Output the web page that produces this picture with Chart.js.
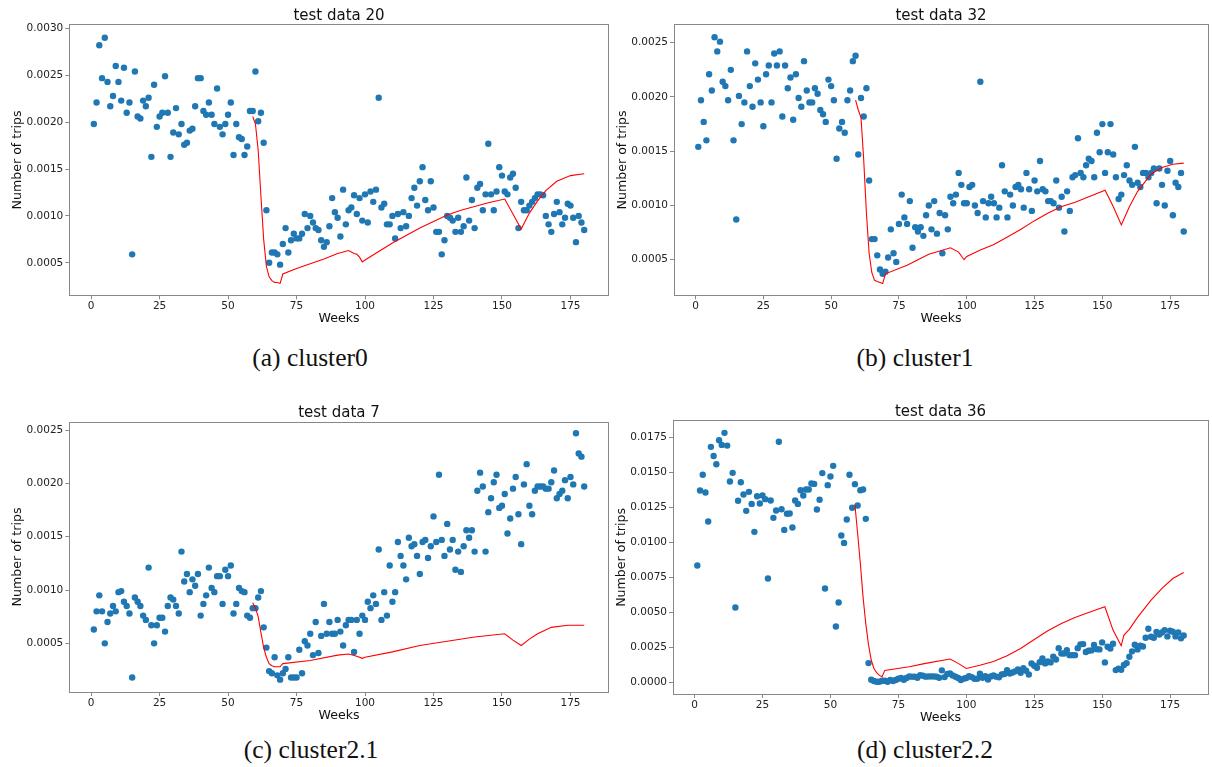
<!DOCTYPE html>
<html>
<head>
<meta charset="utf-8">
<title>test data</title>
<script src="https://cdn.jsdelivr.net/npm/chart.js@4.4.1/dist/chart.umd.min.js"></script>
<style>
  body { margin: 0; background: #fff; width: 1212px; height: 767px; position: relative; overflow: hidden; }
  canvas { position: absolute; }
  .cap { position: absolute; width: 300px; text-align: center; font-family: "Liberation Serif", "DejaVu Serif", serif;
         font-size: 25.5px; line-height: 26px; color: #111; }
</style>
</head>
<body>
<canvas id="p1"></canvas>
<canvas id="p2"></canvas>
<canvas id="p3"></canvas>
<canvas id="p4"></canvas>
<div class="cap" style="left:160px;top:345px">(a) cluster0</div>
<div class="cap" style="left:765px;top:345px">(b) cluster1</div>
<div class="cap" style="left:161px;top:737px">(c) cluster2.1</div>
<div class="cap" style="left:775px;top:737px">(d) cluster2.2</div>
<script>
// weekly trips, weeks 1..180, one value per week
const trips20 = [
  0.00198, 0.00221, 0.00282, 0.00247, 0.00290, 0.00243, 0.00217, 0.00228, 0.00260, 0.00243,
  0.00223, 0.00258, 0.00210, 0.00221, 0.00059, 0.00254, 0.00206, 0.00204, 0.00223, 0.00217,
  0.00226, 0.00163, 0.00240, 0.00195, 0.00206, 0.00210, 0.00249, 0.00210, 0.00163, 0.00189,
  0.00215, 0.00187, 0.00198, 0.00176, 0.00178, 0.00191, 0.00193, 0.00217, 0.00247, 0.00247,
  0.00212, 0.00208, 0.00221, 0.00208, 0.00198, 0.00236, 0.00195, 0.00187, 0.00198, 0.00208,
  0.00221, 0.00165, 0.00198, 0.00184, 0.00182, 0.00165, 0.00174, 0.00212, 0.00212, 0.00254,
  0.00201, 0.00210, 0.00178, 0.00106, 0.00050, 0.00061, 0.00061, 0.00059, 0.00048, 0.00070,
  0.00087, 0.00061, 0.00074, 0.00081, 0.00076, 0.00076, 0.00081, 0.00102, 0.00087, 0.00100,
  0.00093, 0.00087, 0.00085, 0.00074, 0.00067, 0.00072, 0.00089, 0.00119, 0.00104, 0.00098,
  0.00078, 0.00128, 0.00091, 0.00106, 0.00109, 0.00122, 0.00102, 0.00119, 0.00095, 0.00123,
  0.00093, 0.00126, 0.00115, 0.00128, 0.00226, 0.00109, 0.00113, 0.00091, 0.00091, 0.00100,
  0.00076, 0.00102, 0.00087, 0.00104, 0.00089, 0.00100, 0.00119, 0.00130, 0.00111, 0.00137,
  0.00152, 0.00117, 0.00106, 0.00137, 0.00109, 0.00083, 0.00083, 0.00059, 0.00074, 0.00100,
  0.00098, 0.00095, 0.00083, 0.00098, 0.00083, 0.00089, 0.00141, 0.00095, 0.00117, 0.00087,
  0.00130, 0.00134, 0.00106, 0.00123, 0.00177, 0.00123, 0.00106, 0.00126, 0.00152, 0.00143,
  0.00126, 0.00123, 0.00141, 0.00145, 0.00130, 0.00087, 0.00115, 0.00106, 0.00106, 0.00111,
  0.00115, 0.00119, 0.00123, 0.00123, 0.00122, 0.00100, 0.00091, 0.00083, 0.00102, 0.00115,
  0.00104, 0.00091, 0.00098, 0.00113, 0.00111, 0.00098, 0.00072, 0.00100, 0.00093, 0.00085
];
const fitWeeks20 = [59, 60, 61, 62, 63, 64, 65, 66, 67, 68, 69, 70, 75, 80, 85, 90, 94, 96, 97, 98, 99, 100,
  105, 110, 115, 120, 125, 130, 135, 140, 145, 151, 154, 157, 160, 163, 166, 170, 175, 180];
const fit20 = [0.00206, 0.00198, 0.00170, 0.00121, 0.00075, 0.00046, 0.00035, 0.00031, 0.00029, 0.00029, 0.00028, 0.00038,
  0.00044, 0.00049, 0.00054, 0.00060, 0.00063, 0.00060, 0.00059, 0.00056, 0.00051, 0.00053,
  0.00062, 0.00071, 0.00079, 0.00087, 0.00094, 0.00101, 0.00106, 0.00110, 0.00114, 0.00118, 0.00102, 0.00086,
  0.00103, 0.00116, 0.00127, 0.00137, 0.00143, 0.00145];

const trips32 = [
  0.00154, 0.00197, 0.00177, 0.00160, 0.00221, 0.00206, 0.00255, 0.00242, 0.00251, 0.00214,
  0.00210, 0.00197, 0.00225, 0.00160, 0.00087, 0.00201, 0.00175, 0.00195, 0.00242, 0.00210,
  0.00191, 0.00231, 0.00216, 0.00195, 0.00173, 0.00221, 0.00229, 0.00195, 0.00240, 0.00229,
  0.00242, 0.00182, 0.00229, 0.00208, 0.00218, 0.00179, 0.00221, 0.00199, 0.00191, 0.00233,
  0.00206, 0.00195, 0.00195, 0.00208, 0.00203, 0.00188, 0.00184, 0.00177, 0.00216, 0.00210,
  0.00197, 0.00143, 0.00171, 0.00177, 0.00167, 0.00197, 0.00206, 0.00233, 0.00238, 0.00147,
  0.00199, 0.00182, 0.00208, 0.00123, 0.00069, 0.00069, 0.00054, 0.00041, 0.00037, 0.00039,
  0.00052, 0.00078, 0.00056, 0.00048, 0.00083, 0.00110, 0.00089, 0.00083, 0.00104, 0.00061,
  0.00080, 0.00076, 0.00080, 0.00072, 0.00091, 0.00100, 0.00078, 0.00104, 0.00074, 0.00093,
  0.00056, 0.00091, 0.00078, 0.00108, 0.00102, 0.00110, 0.00130, 0.00119, 0.00102, 0.00102,
  0.00117, 0.00119, 0.00100, 0.00093, 0.00214, 0.00104, 0.00089, 0.00102, 0.00108, 0.00102,
  0.00089, 0.00098, 0.00137, 0.00113, 0.00089, 0.00110, 0.00100, 0.00117, 0.00119, 0.00115,
  0.00098, 0.00130, 0.00115, 0.00095, 0.00123, 0.00113, 0.00141, 0.00115, 0.00113, 0.00104,
  0.00104, 0.00102, 0.00123, 0.00098, 0.00108, 0.00076, 0.00113, 0.00095, 0.00126, 0.00128,
  0.00162, 0.00130, 0.00126, 0.00137, 0.00143, 0.00141, 0.00126, 0.00167, 0.00149, 0.00175,
  0.00130, 0.00149, 0.00175, 0.00147, 0.00126, 0.00106, 0.00110, 0.00128, 0.00137, 0.00123,
  0.00119, 0.00154, 0.00121, 0.00117, 0.00130, 0.00130, 0.00126, 0.00130, 0.00134, 0.00102,
  0.00134, 0.00119, 0.00100, 0.00132, 0.00141, 0.00091, 0.00121, 0.00117, 0.00130, 0.00076
];
const fitWeeks32 = [59, 60, 61, 62, 63, 64, 65, 66, 67, 68, 69, 70, 78, 86, 94, 97, 99, 100,
  105, 110, 115, 120, 125, 130, 135, 140, 145, 151, 154, 157, 160, 163, 168, 172, 176, 180];
const fit32 = [0.00197, 0.00188, 0.00181, 0.00142, 0.00093, 0.00056, 0.00038, 0.00031, 0.00030, 0.00029, 0.00028, 0.00037,
  0.00045, 0.00055, 0.00061, 0.00057, 0.00050, 0.00053,
  0.00059, 0.00064, 0.00071, 0.00078, 0.00086, 0.00093, 0.00099, 0.00103, 0.00108, 0.00114, 0.00099, 0.00082,
  0.00099, 0.00113, 0.00129, 0.00135, 0.00138, 0.00139];

const trips7 = [
  0.00063, 0.00080, 0.00095, 0.00080, 0.00050, 0.00070, 0.00078, 0.00085, 0.00080, 0.00098,
  0.00099, 0.00089, 0.00085, 0.00078, 0.00018, 0.00093, 0.00089, 0.00085, 0.00076, 0.00072,
  0.00121, 0.00067, 0.00050, 0.00067, 0.00074, 0.00074, 0.00061, 0.00085, 0.00093, 0.00091,
  0.00085, 0.00078, 0.00136, 0.00108, 0.00115, 0.00098, 0.00110, 0.00104, 0.00115, 0.00076,
  0.00087, 0.00095, 0.00121, 0.00102, 0.00098, 0.00113, 0.00113, 0.00087, 0.00119, 0.00113,
  0.00123, 0.00078, 0.00087, 0.00102, 0.00099, 0.00098, 0.00076, 0.00074, 0.00083, 0.00083,
  0.00093, 0.00099, 0.00065, 0.00046, 0.00024, 0.00022, 0.00037, 0.00020, 0.00016, 0.00022,
  0.00026, 0.00037, 0.00018, 0.00018, 0.00018, 0.00044, 0.00022, 0.00052, 0.00048, 0.00059,
  0.00039, 0.00070, 0.00041, 0.00057, 0.00087, 0.00059, 0.00070, 0.00059, 0.00059, 0.00072,
  0.00061, 0.00048, 0.00067, 0.00072, 0.00072, 0.00042, 0.00072, 0.00059, 0.00076, 0.00072,
  0.00089, 0.00083, 0.00095, 0.00087, 0.00138, 0.00072, 0.00098, 0.00076, 0.00123, 0.00089,
  0.00098, 0.00145, 0.00132, 0.00123, 0.00110, 0.00149, 0.00141, 0.00143, 0.00132, 0.00115,
  0.00145, 0.00147, 0.00130, 0.00141, 0.00169, 0.00145, 0.00208, 0.00147, 0.00132, 0.00162,
  0.00138, 0.00147, 0.00119, 0.00136, 0.00117, 0.00141, 0.00156, 0.00149, 0.00156, 0.00136,
  0.00193, 0.00210, 0.00197, 0.00136, 0.00173, 0.00186, 0.00201, 0.00208, 0.00177, 0.00179,
  0.00190, 0.00153, 0.00167, 0.00195, 0.00206, 0.00171, 0.00143, 0.00199, 0.00218, 0.00179,
  0.00171, 0.00193, 0.00197, 0.00197, 0.00197, 0.00195, 0.00195, 0.00201, 0.00212, 0.00186,
  0.00190, 0.00193, 0.00203, 0.00186, 0.00206, 0.00199, 0.00247, 0.00228, 0.00225, 0.00197
];
const fitWeeks7 = [59, 60, 61, 62, 63, 64, 65, 66, 67, 68, 69, 70, 80, 90, 94, 97, 99, 100,
  110, 120, 130, 140, 151, 154, 157, 160, 163, 168, 174, 180];
const fit7 = [0.00088, 0.00083, 0.00075, 0.00060, 0.00046, 0.00037, 0.00031, 0.00029, 0.00028, 0.00028, 0.00028, 0.00031,
  0.00034, 0.00039, 0.00040, 0.00038, 0.00036, 0.00037,
  0.00042, 0.00048, 0.00052, 0.00056, 0.00059, 0.00053, 0.00048, 0.00054, 0.00059, 0.00065, 0.00067, 0.00067];

const trips36 = [
  0.00836, 0.01373, 0.01485, 0.01358, 0.01151, 0.01685, 0.01620, 0.01561, 0.01732, 0.01699,
  0.01785, 0.01694, 0.01437, 0.01499, 0.00536, 0.01299, 0.01432, 0.01344, 0.01227, 0.01363,
  0.01277, 0.01077, 0.01332, 0.01280, 0.01337, 0.01311, 0.00743, 0.01301, 0.01177, 0.01230,
  0.01721, 0.01239, 0.01091, 0.01206, 0.01208, 0.01108, 0.01301, 0.01277, 0.01375, 0.01337,
  0.01380, 0.01380, 0.01423, 0.01420, 0.01237, 0.01306, 0.01497, 0.00672, 0.01411, 0.01473,
  0.01549, 0.00400, 0.00572, 0.01051, 0.00998, 0.01165, 0.01485, 0.01249, 0.01418, 0.01265,
  0.01375, 0.01380, 0.01170, 0.00138, 0.00019, 0.00010, 0.00005, 0.00005, 0.00012, 0.00012,
  0.00005, 0.00017, 0.00010, 0.00017, 0.00026, 0.00031, 0.00019, 0.00031, 0.00043, 0.00041,
  0.00041, 0.00033, 0.00052, 0.00048, 0.00041, 0.00043, 0.00043, 0.00043, 0.00041, 0.00033,
  0.00086, 0.00038, 0.00060, 0.00064, 0.00050, 0.00041, 0.00031, 0.00017, 0.00026, 0.00031,
  0.00045, 0.00038, 0.00026, 0.00026, 0.00062, 0.00033, 0.00045, 0.00021, 0.00043, 0.00050,
  0.00041, 0.00036, 0.00057, 0.00060, 0.00088, 0.00064, 0.00071, 0.00079, 0.00093, 0.00069,
  0.00102, 0.00083, 0.00057, 0.00136, 0.00119, 0.00105, 0.00145, 0.00172, 0.00136, 0.00150,
  0.00143, 0.00183, 0.00164, 0.00245, 0.00207, 0.00207, 0.00231, 0.00195, 0.00195, 0.00195,
  0.00245, 0.00272, 0.00274, 0.00217, 0.00226, 0.00229, 0.00267, 0.00238, 0.00236, 0.00286,
  0.00143, 0.00255, 0.00243, 0.00276, 0.00088, 0.00098, 0.00091, 0.00124, 0.00138, 0.00183,
  0.00222, 0.00269, 0.00236, 0.00262, 0.00257, 0.00319, 0.00384, 0.00326, 0.00319, 0.00360,
  0.00343, 0.00357, 0.00374, 0.00329, 0.00369, 0.00362, 0.00329, 0.00357, 0.00315, 0.00336
];
const fitWeeks36 = [59, 60, 61, 62, 63, 64, 65, 66, 67, 68, 69, 70, 79, 85, 94, 97, 100,
  105, 110, 115, 120, 125, 130, 135, 140, 145, 151, 154, 157, 158, 160, 163, 168, 172, 176, 180];
const fit36 = [0.01273, 0.01065, 0.00850, 0.00610, 0.00420, 0.00270, 0.00160, 0.00100, 0.00069, 0.00050, 0.00040, 0.00086,
  0.00112, 0.00136, 0.00167, 0.00136, 0.00100,
  0.00122, 0.00150, 0.00190, 0.00243, 0.00307, 0.00369, 0.00422, 0.00465, 0.00500, 0.00541, 0.00374, 0.00262, 0.00338,
  0.00379, 0.00465, 0.00589, 0.00672, 0.00743, 0.00786];

const xTicks = [0, 25, 50, 75, 100, 125, 150, 175];
const yTicksSmall = [0.0005, 0.0010, 0.0015, 0.0020, 0.0025];
const yTicks20 = [0.0005, 0.0010, 0.0015, 0.0020, 0.0025, 0.0030];
const yTicks36 = [0.0000, 0.0025, 0.0050, 0.0075, 0.0100, 0.0125, 0.0150, 0.0175];

const xMin = -7.95, xMax = 188.95;
const spine = '#888';
const textCol = '#222';

function drawPanel(id, box, title, trips, fitWeeks, fit, yMin, yMax, yTicks) {
  const cv = document.getElementById(id);
  cv.width = box.w; cv.height = box.h;
  cv.style.left = box.left + 'px'; cv.style.top = box.top + 'px';
  cv.style.width = box.w + 'px'; cv.style.height = box.h + 'px';

  const yAxisW = box.L - box.left;
  const xAxisH = box.top + box.h - box.B;
  const titleH = box.T - box.top;

  const frame = (pos, mn, mx, fitFn) => ({
    type: 'linear', position: pos, min: mn, max: mx,
    ticks: { display: false },
    grid: { drawOnChartArea: false, drawTicks: false },
    border: { display: true, color: spine, width: 1 },
    afterFit: fitFn
  });

  new Chart(cv, {
    type: 'scatter',
    data: {
      datasets: [
        {
          data: fitWeeks.map((w, i) => ({ x: w, y: fit[i] })),
          showLine: true, borderColor: '#ff0000', borderWidth: 1.1,
          pointRadius: 0, tension: 0, fill: false
        },
        {
          data: trips.map((v, i) => ({ x: i + 1, y: v })),
          backgroundColor: '#1f77b4', borderWidth: 0, pointRadius: 3.2
        }
      ]
    },
    options: {
      responsive: false,
      animation: false,
      devicePixelRatio: 1,
      layout: { padding: { left: 0, top: 0, bottom: 0, right: box.left + box.w - box.R } },
      plugins: {
        legend: { display: false },
        tooltip: { enabled: false },
        title: {
          display: true, text: title, fullSize: false, color: '#111',
          font: { family: 'DejaVu Sans', size: 15, weight: 'normal', lineHeight: 1.2 },
          padding: { top: titleH - 18, bottom: 0 }
        }
      },
      scales: {
        x: {
          type: 'linear', min: xMin, max: xMax,
          afterBuildTicks: s => { s.ticks = xTicks.map(v => ({ value: v })); },
          afterFit: s => { s.height = xAxisH; },
          ticks: { color: textCol, font: { family: 'DejaVu Sans', size: 10.5 }, padding: 1,
                   maxRotation: 0, autoSkip: false, callback: v => String(v) },
          grid: { drawOnChartArea: false, drawTicks: true, tickLength: 4, color: spine },
          border: { display: true, color: spine, width: 1 },
          title: { display: true, text: 'Weeks', color: '#111',
                   font: { family: 'DejaVu Sans', size: 12.6, lineHeight: 1.2 },
                   padding: { top: 0, bottom: xAxisH - 23.5 - 7.56 } }
        },
        y: {
          type: 'linear', min: yMin, max: yMax,
          afterBuildTicks: s => { s.ticks = yTicks.map(v => ({ value: v })); },
          afterFit: s => { s.width = yAxisW; },
          ticks: { color: textCol, font: { family: 'DejaVu Sans', size: 10.5 }, padding: 2,
                   autoSkip: false, callback: v => v.toFixed(4) },
          grid: { drawOnChartArea: false, drawTicks: true, tickLength: 4, color: spine },
          border: { display: true, color: spine, width: 1 },
          title: { display: true, text: 'Number of trips', color: '#111',
                   font: { family: 'DejaVu Sans', size: 12.6, lineHeight: 1.2 },
                   padding: { top: 10.4, bottom: 0 } }
        },
        x2: frame('top', xMin, xMax, s => { s.height = 0; }),
        y2: frame('right', yMin, yMax, s => { s.width = 0; })
      }
    }
  });
}

drawPanel('p1', { left: 0, top: 0, w: 620, h: 333, L: 69.3, T: 24.7, R: 608.7, B: 295.3 },
  'test data 20', trips20, fitWeeks20, fit20, 0.000153, 0.00304, yTicks20);
drawPanel('p2', { left: 605, top: 0, w: 607, h: 333, L: 674, T: 24.7, R: 1211, B: 295.3 },
  'test data 32', trips32, fitWeeks32, fit32, 0.000172, 0.002666, yTicksSmall);
drawPanel('p3', { left: 0, top: 398, w: 620, h: 332, L: 69.3, T: 422, R: 608.7, B: 692 },
  'test data 7', trips7, fitWeeks7, fit7, 0.000044, 0.002575, yTicksSmall);
drawPanel('p4', { left: 604, top: 397, w: 608, h: 335, L: 673, T: 420.7, R: 1211, B: 694 },
  'test data 36', trips36, fitWeeks36, fit36, -0.00083, 0.01872, yTicks36);
</script>
</body>
</html>
